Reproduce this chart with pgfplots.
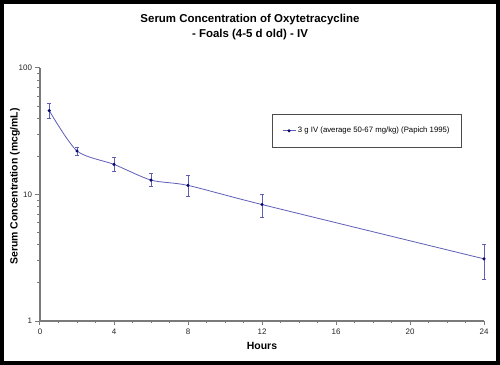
\documentclass[border=0pt]{standalone}
\usepackage{pgfplots}
\pgfplotsset{compat=1.18}
\usepackage{fontspec}
\setmainfont{Liberation Sans}
\definecolor{linec}{HTML}{5F5FB8}
\definecolor{markc}{HTML}{0A0A70}
\definecolor{axc}{HTML}{7A7A7A}
\begin{document}
\begin{tikzpicture}
\path[use as bounding box] (0,0) rectangle (500bp,365bp);
\fill[white] (0,0) rectangle (500bp,365bp);
\begin{axis}[
  scale only axis,
  width=444bp, height=253bp,
  at={(40bp,44bp)}, anchor=south west,
  ymode=log, log basis y=10,
  xmin=0, xmax=24, ymin=1, ymax=100,
  xtick={0,4,8,12,16,20,24},
  minor xtick={1,2,3,5,6,7,9,10,11,13,14,15,17,18,19,21,22,23},
  ytick={1,10,100},
  yticklabels={1,10,100},
  minor ytick={2,3,4,5,6,7,8,9,20,30,40,50,60,70,80,90},
  axis lines*=left,
  axis line style={-, axc, line width=1.2bp},
  every tick/.append style={axc, line width=1bp},
  every minor tick/.append style={axc, line width=1bp},
  xtick align=outside, ytick align=outside,
  major tick length=4.5bp, minor tick length=2.5bp,
  tick label style={font=\fontsize{8}{9}\selectfont, text=black!85},
  /pgf/number format/assume math mode=true,
  xlabel={\bfseries Hours},
  xlabel style={font=\fontsize{10.5}{12}\selectfont, yshift=-1bp},
  ylabel={\bfseries Serum Concentration (mcg/mL)},
  ylabel style={font=\fontsize{10.5}{12}\selectfont, yshift=-8bp, xshift=8bp},
  clip=false,
  legend style={at={(0.5225,0.818)}, anchor=north west, draw=black!70,
    font=\fontsize{7.8}{9}\selectfont, inner xsep=10bp, inner ysep=11bp,
    legend cell align=left},
  legend image code/.code={
    \draw[linec, line width=0.8bp] (0bp,0bp) -- (13bp,0bp);
    \fill[markc] (6.5bp,0bp) circle (1.1bp);},
]
\addplot[linec, line width=0.8bp, smooth, tension=0.45,
  mark=*, mark size=1.1bp, mark options={fill=markc, draw=markc},
  error bars/.cd, y dir=both, y explicit,
  error bar style={linec, line width=0.8bp},
  error mark options={rotate=90, linec, mark size=2.2bp, line width=0.8bp}]
coordinates {
  (0.5,46)   += (0,6.4)  -= (0,6.0)
  (2,22.1)   += (0,1.6)  -= (0,1.7)
  (4,17.3)   += (0,2.4)  -= (0,2.2)
  (6,13.0)   += (0,1.65) -= (0,1.5)
  (8,11.8)   += (0,2.25) -= (0,2.2)
  (12,8.33)  += (0,1.67) -= (0,1.75)
  (24,3.10)  += (0,0.95) -= (0,0.95)
};
\addlegendentry{3 g IV (average 50-67 mg/kg) (Papich 1995)}
\end{axis}
\node[font=\bfseries\fontsize{11.5}{14.5}\selectfont, align=center] at (250bp,338bp)
  {Serum Concentration of Oxytetracycline\\- Foals (4-5 d old) - IV};
\draw[line width=4bp, black] (2bp,2bp) rectangle (498bp,363bp);
\end{tikzpicture}
\end{document}
